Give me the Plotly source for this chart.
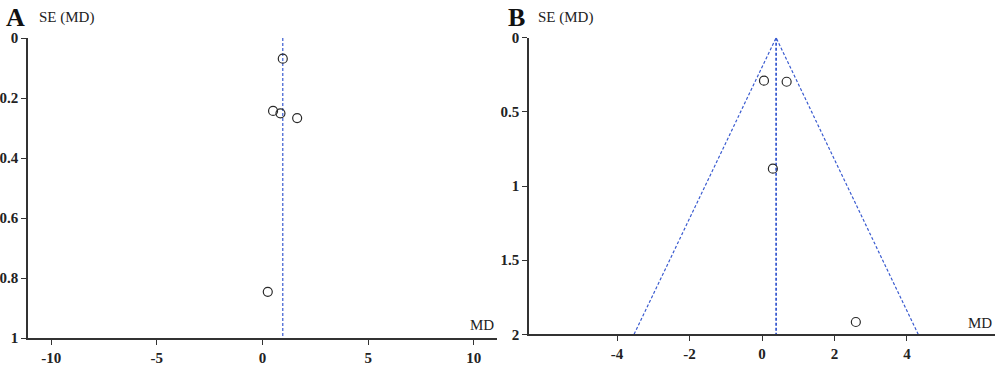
import plotly.graph_objects as go

# Panel A data
md_a = [0.96, 0.50, 0.85, 1.64, 0.25]
se_a = [0.069, 0.243, 0.251, 0.267, 0.846]
pooled_a = 0.96
se_max_a = 1.0

# Panel B data
md_b = [0.055, 0.68, 0.30, 2.59]
se_b = [0.29, 0.297, 0.883, 1.917]
pooled_b = 0.39
se_max_b = 2.0
z = 1.96

xt_a = [-10, -5, 0, 5, 10]
yt_a = [0, 0.2, 0.4, 0.6, 0.8, 1]
yt_a_text = ["0", "0.2", "0.4", "0.6", "0.8", "1"]
xt_b = [-4, -2, 0, 2, 4]
yt_b = [0, 0.5, 1, 1.5, 2]
yt_b_text = ["0", "0.5", "1", "1.5", "2"]

W, H = 1000, 372
AX = "#333333"
BLUE = "#3a5bd0"
FONT = "Liberation Serif"

fig = go.Figure()

marker = dict(symbol="circle-open", size=9, color="#2a2a2a", line=dict(width=1.2))

# A
fig.add_trace(go.Scatter(x=[pooled_a, pooled_a], y=[0, se_max_a], mode="lines",
                         line=dict(color=BLUE, width=1.2, dash="3px,2px"),
                         xaxis="x", yaxis="y", hoverinfo="skip"))
fig.add_trace(go.Scatter(x=md_a, y=se_a, mode="markers", marker=marker, xaxis="x", yaxis="y"))

# B
fig.add_trace(go.Scatter(x=[pooled_b - z * se_max_b, pooled_b, pooled_b + z * se_max_b],
                         y=[se_max_b, 0, se_max_b], mode="lines",
                         line=dict(color=BLUE, width=1.2, dash="3px,2px"),
                         xaxis="x2", yaxis="y2", hoverinfo="skip"))
fig.add_trace(go.Scatter(x=[pooled_b, pooled_b], y=[0, se_max_b], mode="lines",
                         line=dict(color=BLUE, width=1.8, dash="3px,2px"),
                         xaxis="x2", yaxis="y2", hoverinfo="skip"))
fig.add_trace(go.Scatter(x=md_b, y=se_b, mode="markers", marker=marker, xaxis="x2", yaxis="y2"))

tickfont = dict(family=FONT, size=15, color="#222", weight="bold")

def xaxis(dom, rng, tv, anchor):
    return dict(domain=dom, range=rng, tickvals=tv, ticktext=[str(v) for v in tv],
                showgrid=False, zeroline=False, showline=True, linecolor=AX, linewidth=1.5,
                ticks="outside", ticklen=5, tickcolor=AX, tickwidth=1.2, automargin=False,
                tickfont=tickfont, anchor=anchor, fixedrange=True)

def yaxis(dom, rng, tv, tt, anchor):
    return dict(domain=dom, range=rng, tickvals=tv, ticktext=tt,
                showgrid=False, zeroline=False, showline=True, linecolor=AX, linewidth=1.5,
                ticks="outside", ticklen=5, tickcolor=AX, tickwidth=1.2, automargin=False,
                tickfont=tickfont, anchor=anchor, fixedrange=True)

fig.update_layout(
    width=W, height=H, margin=dict(l=0, r=0, t=0, b=0, autoexpand=False),
    paper_bgcolor="white", plot_bgcolor="white", showlegend=False,
    xaxis=xaxis([28 / W, 497 / W], [-11.1, 11.1], xt_a, "y"),
    yaxis=yaxis([1 - 338 / H, 1 - 38 / H], [1, 0], yt_a, yt_a_text, "x"),
    xaxis2=xaxis([529 / W, 995 / W], [-6.43, 6.43], xt_b, "y2"),
    yaxis2=yaxis([1 - 334.3 / H, 1 - 37.7 / H], [2, 0], yt_b, yt_b_text, "x2"),
)

ann = []
for letter, xp in [("A", 4), ("B", 506)]:
    ann.append(dict(text=letter, x=xp / W, y=1 - 1 / H, xref="paper", yref="paper",
                    xanchor="left", yanchor="top", showarrow=False,
                    font=dict(family=FONT, size=26, color="#111", weight="bold")))
for xp in [37, 536]:
    ann.append(dict(text="SE (MD)", x=xp / W, y=1 - 7 / H, xref="paper", yref="paper",
                    xanchor="left", yanchor="top", showarrow=False,
                    font=dict(family=FONT, size=15, color="#222")))
for xp, yp in [(496, 335), (994, 333)]:
    ann.append(dict(text="MD", x=xp / W, y=1 - yp / H, xref="paper", yref="paper",
                    xanchor="right", yanchor="bottom", showarrow=False,
                    font=dict(family=FONT, size=15, color="#222")))
fig.update_layout(annotations=ann)

fig.write_html("out.html", config={"displayModeBar": False},
               post_script="document.body.style.margin='0';document.body.style.overflow='hidden';")
